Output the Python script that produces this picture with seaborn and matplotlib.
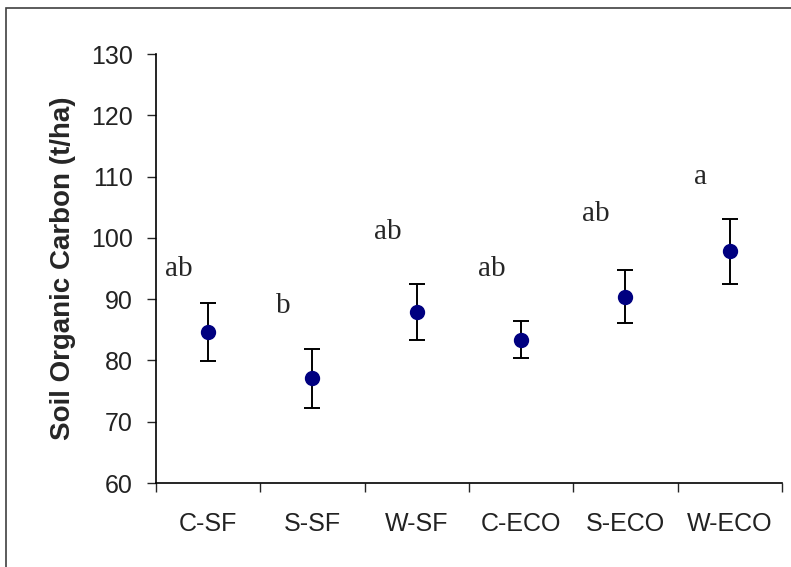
import matplotlib
matplotlib.use("Agg")
import matplotlib.pyplot as plt
import seaborn as sns
import pandas as pd
import numpy as np
from matplotlib.patches import Rectangle

# 数据
treatments = ["C-SF", "S-SF", "W-SF", "C-ECO", "S-ECO", "W-ECO"]
soc_mean = [84.6, 77.1, 87.9, 83.4, 90.4, 97.8]
soc_err = [4.7, 4.8, 4.6, 3.0, 4.3, 5.3]
sig_letters = ["ab", "b", "ab", "ab", "ab", "a"]
letter_y = [95.0, 88.9, 101.0, 95.0, 103.9, 109.9]
y_ticks = [60, 70, 80, 90, 100, 110, 120, 130]

df = pd.DataFrame({"treatment": treatments, "soc": soc_mean, "err": soc_err})

sns.set_style("white")
plt.rcParams["font.family"] = ["Liberation Sans", "DejaVu Sans"]

fig = plt.figure(figsize=(7.91, 5.67), dpi=100)
ax = fig.add_axes([0.1972, 0.1481, 0.7914, 0.7566])

sns.pointplot(data=df, x="treatment", y="soc", linestyle="none", errorbar=None,
              color="#000080", markers="o", markersize=9, ax=ax, zorder=3)
xs = np.arange(len(treatments))
ax.errorbar(xs, df["soc"], yerr=df["err"], fmt="none", ecolor="black",
            elinewidth=1.4, capsize=6, capthick=1.4, zorder=2)

# 显著性字母
for i, (lab, y) in enumerate(zip(sig_letters, letter_y)):
    ax.text(i - 0.28, y, lab, ha="center", va="center",
            fontsize=21, family=["Liberation Serif", "DejaVu Serif"])

ax.set_xlim(-0.5, len(treatments) - 0.5)
ax.set_ylim(60, 130)
ax.set_yticks(y_ticks)
ax.tick_params(axis="y", direction="out", length=6.5, width=1, labelsize=18,
               left=True, pad=10, labelcolor="#222222")
ax.set_xticks(xs)
ax.set_xticklabels(treatments)
ax.set_xticks(np.arange(-0.5, len(treatments)), minor=True)
ax.tick_params(axis="x", which="major", length=0, labelsize=18, pad=21,
               labelcolor="#222222")
ax.tick_params(axis="x", which="minor", direction="out", length=6.5, width=1, bottom=True)

for s in ["top", "right"]:
    ax.spines[s].set_visible(False)
for s in ["left", "bottom"]:
    ax.spines[s].set_color("black")
    ax.spines[s].set_linewidth(1.2)

ax.set_xlabel("")
ax.set_ylabel("Soil Organic Carbon (t/ha)", fontsize=20, fontweight="bold", labelpad=11)

# 外框
fig.patches.append(Rectangle((6 / 791, -0.1), 1.2, 1.1 - 8 / 567, transform=fig.transFigure,
                             fill=False, edgecolor="#404040", linewidth=1.2))

fig.savefig("out.png", dpi=100)
